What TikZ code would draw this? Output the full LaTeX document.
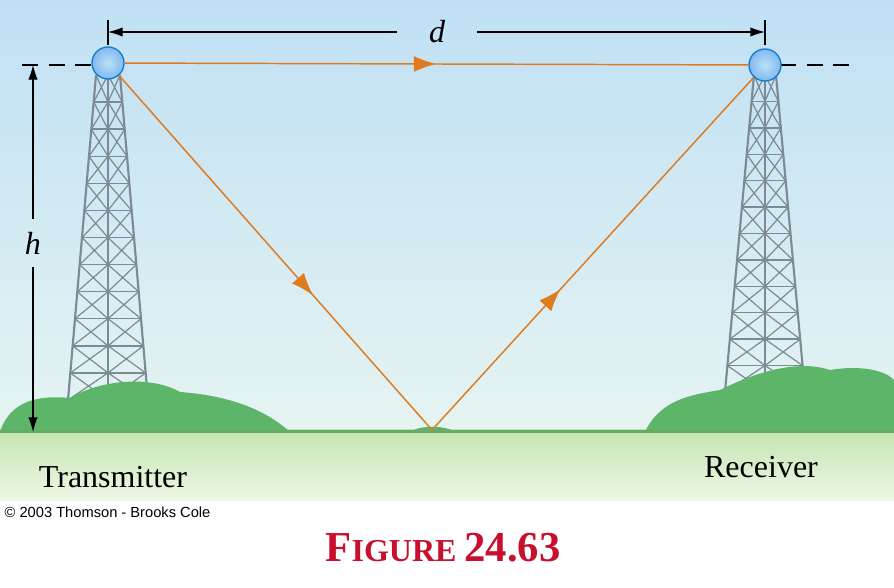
\documentclass[tikz,border=0pt]{standalone}
\usepackage{fontspec}
\setmainfont{Liberation Serif}
\newfontfamily\sansf{Liberation Sans}
\usetikzlibrary{decorations.markings,arrows.meta}
\definecolor{ray}{HTML}{E07A1F}
\definecolor{twr}{HTML}{7D8A94}
\definecolor{bush}{HTML}{5DB56A}
\definecolor{figred}{HTML}{C8102E}
\definecolor{skytop}{HTML}{BFE0F4}
\definecolor{skybot}{HTML}{E6F4F2}
\definecolor{grtop}{HTML}{C4E4B0}
\definecolor{grbot}{HTML}{EEF8E6}
\definecolor{ballc}{HTML}{8FCDF0}
\tikzset{
 rayline/.style={ray,line width=1.1pt,postaction={decorate},decoration={markings,mark=at position #1 with {\arrow{Latex[length=17pt,width=12pt]}}}},
 dim/.style={black,line width=0.8pt},
 ball/.style={circle,minimum size=24pt,inner sep=0pt,inner color=ballc!60!white,outer color=ballc!90!blue,draw=cyan!60!blue,line width=1pt},
 lbl/.style={font=\fontsize{24}{26}\selectfont}
}
\newcommand{\mytower}[5]{% xc, ytop, ybot, halftop, halfbot
 \begin{scope}[twr,line width=1.6pt]
  \draw (#1-#4,#2) -- (#1-#5,#3);
  \draw (#1+#4,#2) -- (#1+#5,#3);
  \draw[line width=1pt] (#1,#2) -- (#1,#3);
  \foreach \i in {0,...,11}{
   \pgfmathsetmacro\ya{#2+(#3-#2)*\i/12}
   \pgfmathsetmacro\yb{#2+(#3-#2)*(\i+1)/12}
   \pgfmathsetmacro\wa{#4+(#5-#4)*\i/12}
   \pgfmathsetmacro\wb{#4+(#5-#4)*(\i+1)/12}
   \draw[line width=1.1pt] (#1-\wa,\ya) -- (#1+\wa,\ya);
   \draw[line width=0.9pt] (#1-\wa,\ya) -- (#1,\yb) (#1-\wb,\yb) -- (#1,\ya)
     (#1+\wa,\ya) -- (#1,\yb) (#1+\wb,\yb) -- (#1,\ya);
  }
 \end{scope}}
\begin{document}
\begin{tikzpicture}[x=0.75pt,y=-0.75pt]
\useasboundingbox (0,0) rectangle (894,588);
\fill[white] (0,0) rectangle (894,588);
\shade[top color=skytop,bottom color=skybot] (0,0) rectangle (894,432);
\shade[top color=grtop,bottom color=grbot] (0,430) rectangle (894,500);
% towers
\mytower{108}{75}{400}{12}{40}
\mytower{765}{75}{392}{11}{40}
% bushes
\begin{scope}[bush]
\fill (0,432) .. controls (10,400) and (40,395) .. (70,398) .. controls (100,380) and (150,375) .. (180,392)
 .. controls (220,395) and (260,405) .. (290,432) -- cycle;
\fill (645,432) .. controls (660,400) and (690,395) .. (720,390) .. controls (760,370) and (800,360) .. (830,370)
 .. controls (860,365) and (885,370) .. (894,380) -- (894,432) -- cycle;
\fill (410,432) .. controls (420,425) and (445,425) .. (455,432) -- cycle;
\end{scope}
\fill[green!45!black!60] (0,430) rectangle (894,433);
% dashed guide
\draw[dim,dashed,dash pattern=on 12pt off 8pt] (22,65) -- (95,65);
\draw[dim,dashed,dash pattern=on 12pt off 8pt] (780,65) -- (850,65);
% nodes
\node[ball] (tx) at (108,63) {};
\node[ball] (rx) at (765,65) {};
\coordinate (g) at (432,430);
% rays
\draw[rayline=0.5] (tx) -- (rx);
\draw[rayline=0.62] (tx) -- (g);
\draw[rayline=0.4] (g) -- (rx);
% dimension d
\coordinate (dl) at (108,32); \coordinate (dr) at (765,32);
\draw[dim] (108,20) -- (108,45); \draw[dim] (765,20) -- (765,45);
\node[font=\fontsize{24}{26}\selectfont\itshape,inner sep=0pt,minimum width=60pt] (d) at (437,32) {d};
\draw[dim,-{Latex[length=11pt,width=7pt]}] (d) -- (dl);
\draw[dim,-{Latex[length=11pt,width=7pt]}] (d) -- (dr);
% dimension h
\coordinate (ht) at (33,65); \coordinate (hb) at (33,432);
\node[font=\fontsize{24}{26}\selectfont\itshape,inner sep=0pt,minimum height=36pt] (h) at (33,243) {h};
\draw[dim,-{Latex[length=11pt,width=7pt]}] (h) -- (ht);
\draw[dim,-{Latex[length=11pt,width=7pt]}] (h) -- (hb);
% labels
\node[lbl] (tl) at (113,477) {Transmitter};
\node[lbl] (rl) at (761,467) {Receiver};
\node[anchor=west,font=\sansf\fontsize{11}{13}\selectfont] (c) at (0,512) {© 2003 Thomson - Brooks Cole};
\node[figred,font=\bfseries\fontsize{32}{34}\selectfont] (f) at (443,548) {F\fontsize{24}{26}\selectfont IGURE \fontsize{32}{34}\selectfont 24.63};
\end{tikzpicture}
\end{document}
